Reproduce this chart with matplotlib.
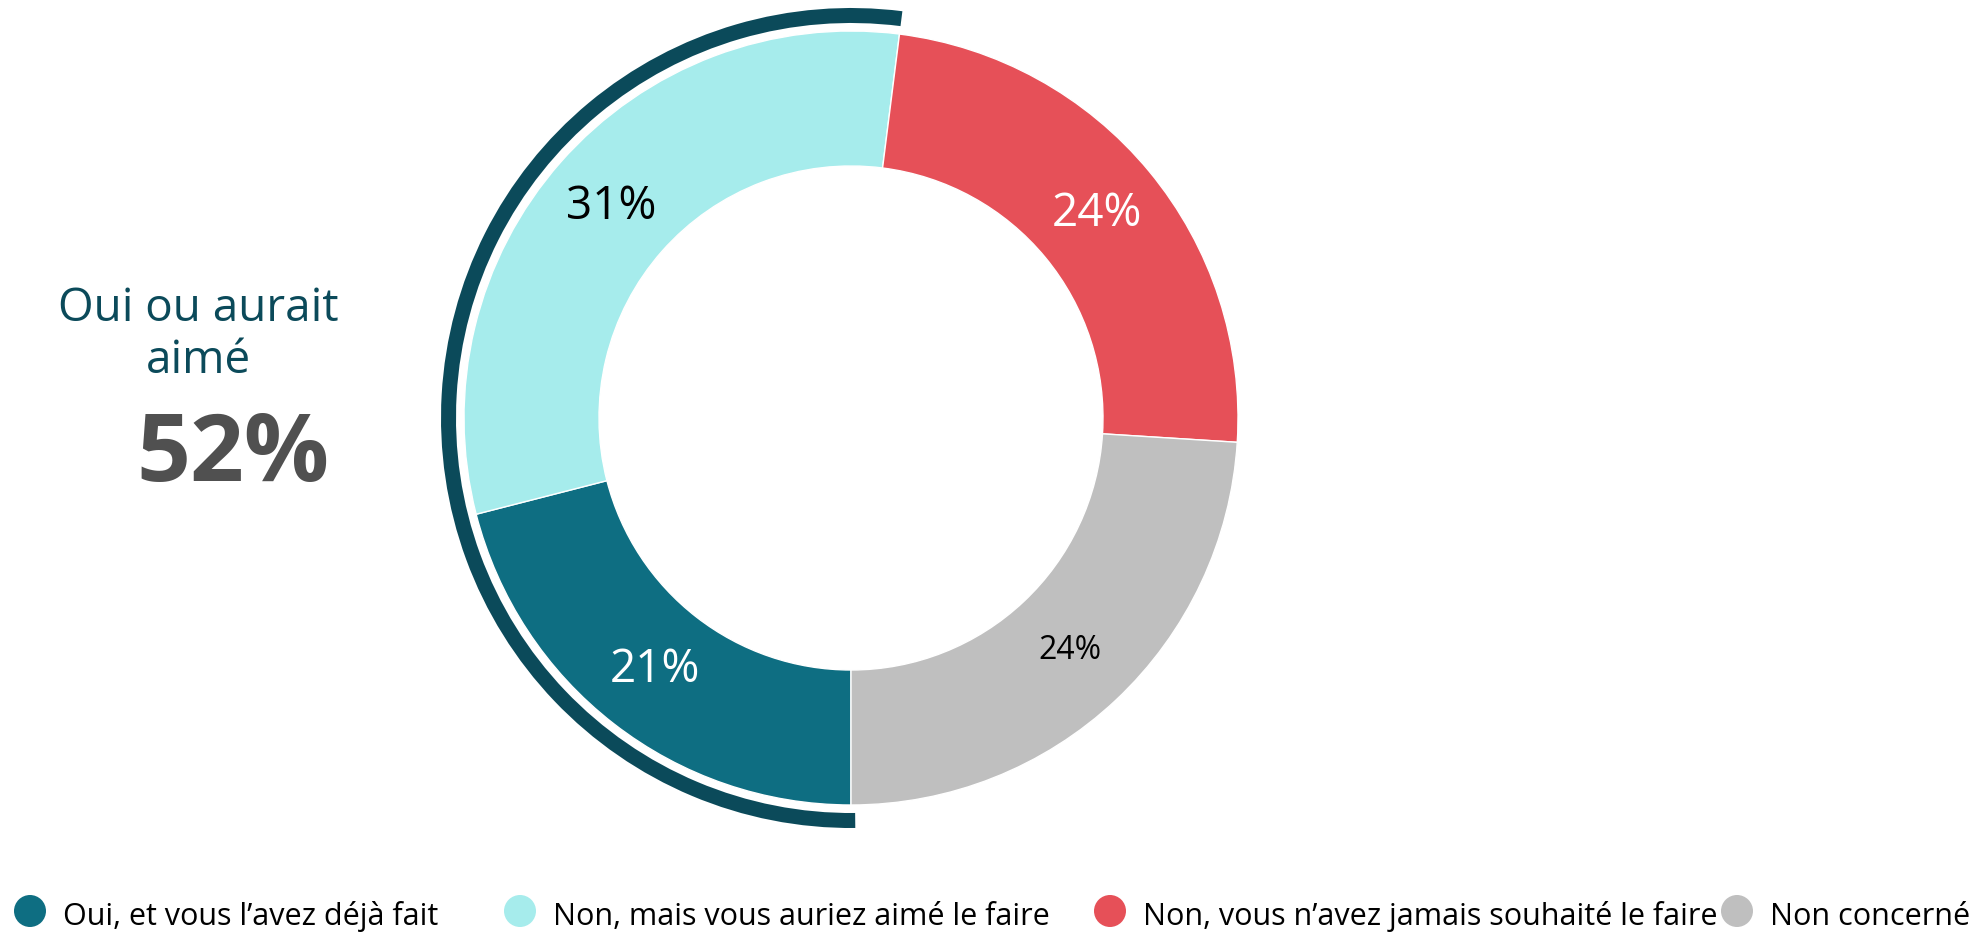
import matplotlib.pyplot as plt
from matplotlib.patches import Wedge, Circle

plt.rcParams['font.family'] = ['Open Sans', 'DejaVu Sans']

# data
categories = ["Oui, et vous l\u2019avez déjà fait",
              "Non, mais vous auriez aimé le faire",
              "Non, vous n\u2019avez jamais souhaité le faire",
              "Non concerné"]
values = [21, 31, 24, 24]
colors = ["#0E6E82", "#A6ECEC", "#E65058", "#BFBFBF"]
label_colors = ["white", "black", "white", "black"]
label_sizes = [33, 33, 33, 23]
highlight_label = "Oui ou aurait\naimé"
highlight_value = values[0] + values[1]

W, H = 1978, 934
fig = plt.figure(figsize=(W / 100, H / 100), dpi=100)
ax = fig.add_axes([0, 0, 1, 1])

cx, cy = 851, H - 418
r_out, ring = 387, 135

wedges, texts, autotexts = ax.pie(
    values, colors=colors, startangle=-90, counterclock=False,
    center=(cx, cy), radius=r_out,
    autopct=lambda p: "%d%%" % round(p), pctdistance=0.825,
    wedgeprops=dict(width=ring, edgecolor="white", linewidth=1))
for t, c, s in zip(autotexts, label_colors, label_sizes):
    t.set_color(c)
    t.set_fontsize(s)

# outer arc spanning the "yes" part
span = 360 * highlight_value / sum(values)
ax.add_patch(Wedge((cx, cy), r_out + 23, -90 - span, -89.4, width=15,
                   facecolor="#0B4A5A", edgecolor="none"))

ax.text(198, H - 335, highlight_label, ha="center", va="center",
        fontsize=33, color="#0B4A5A", linespacing=1.15)
ax.text(233, H - 457, "%d%%" % highlight_value, ha="center", va="center",
        fontsize=68, fontweight="bold", color="#505050")

# legend
leg_x = [30, 520, 1110, 1737]
for x, lab, c in zip(leg_x, categories, colors):
    ax.add_patch(Circle((x, H - 911), 16, facecolor=c, edgecolor="none"))
    ax.text(x + 33, H - 917, lab, ha="left", va="center", fontsize=22,
            color="black")

ax.set_xlim(0, W)
ax.set_ylim(0, H)
ax.set_aspect("equal")
ax.axis("off")

plt.savefig("out.png", dpi=100)
